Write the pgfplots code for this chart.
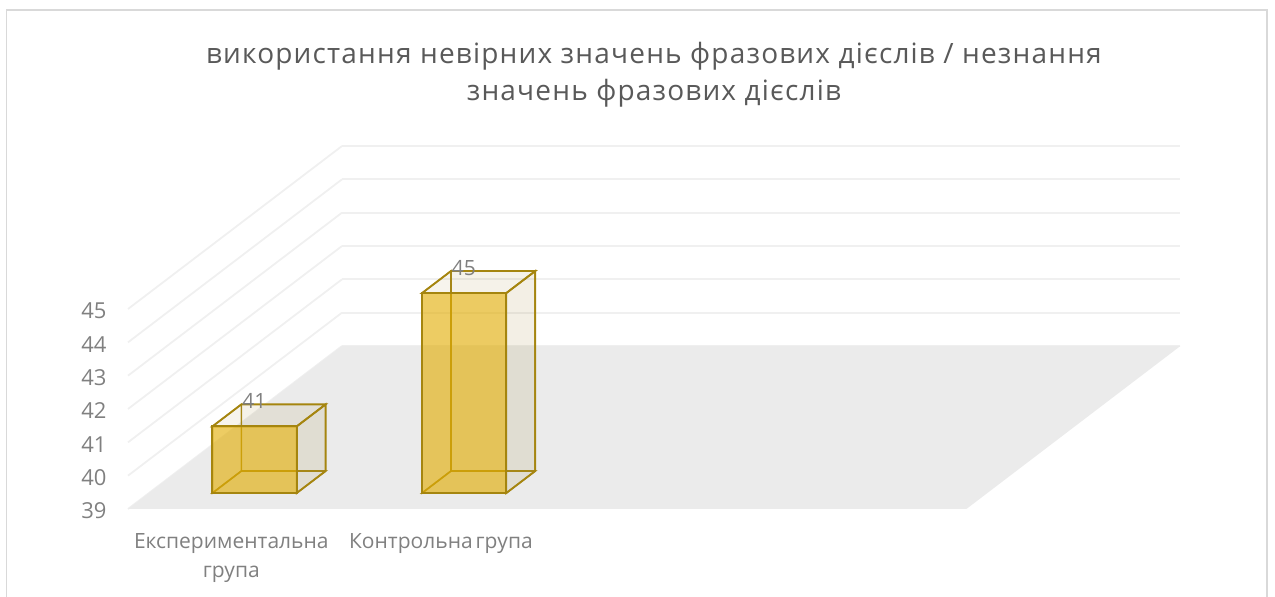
\documentclass[border=0pt]{standalone}
\usepackage{pgfplots}
\pgfplotsset{compat=1.18}
\usepackage{fontspec}
\setmainfont{Open Sans}
\newfontfamily\titlefont[LetterSpace=4.25]{Open Sans}
\definecolor{gridc}{HTML}{F0F0F0}
\definecolor{floorc}{HTML}{EBEBEB}
\definecolor{framec}{HTML}{D9D9D9}
\definecolor{barfront}{HTML}{E3AD00}
\definecolor{barside}{HTML}{9A7A20}
\definecolor{baredge}{HTML}{A5850F}
\definecolor{labelc}{HTML}{808080}
\definecolor{titlec}{HTML}{595959}

% One translucent box: #1 and #2 bound it along x, #3 is its height.
% Depth runs from 0.098 to 0.233 on the y axis, the base sits at 39.
\newcommand{\barbox}[3]{%
  \addplot3[draw=baredge, line width=1.6pt, draw opacity=0.8, fill=barside, fill opacity=0.05, no marks]
    coordinates {(#1,0.233,39) (#2,0.233,39) (#2,0.233,#3) (#1,0.233,#3)} -- cycle;
  \addplot3[draw=baredge, line width=1.6pt, draw opacity=0.8, fill=barside, fill opacity=0.03, no marks]
    coordinates {(#1,0.098,39) (#1,0.233,39) (#1,0.233,#3) (#1,0.098,#3)} -- cycle;
  \addplot3[draw=baredge, line width=1.6pt, draw opacity=0.8, fill=barside, fill opacity=0.05, no marks]
    coordinates {(#1,0.098,39) (#2,0.098,39) (#2,0.233,39) (#1,0.233,39)} -- cycle;
  \addplot3[draw=baredge, line width=1.8pt, fill=barside, fill opacity=0.05, no marks]
    coordinates {(#1,0.098,#3) (#2,0.098,#3) (#2,0.233,#3) (#1,0.233,#3)} -- cycle;
  \addplot3[draw=baredge, line width=1.8pt, fill=barside, fill opacity=0.07, no marks]
    coordinates {(#2,0.098,39) (#2,0.233,39) (#2,0.233,#3) (#2,0.098,#3)} -- cycle;
  \addplot3[draw=baredge, line width=2pt, fill=barfront, fill opacity=0.6, no marks]
    coordinates {(#1,0.098,39) (#2,0.098,39) (#2,0.098,#3) (#1,0.098,#3)} -- cycle;
}

\begin{document}
\begin{tikzpicture}[x=1pt,y=1pt]
\path[use as bounding box] (0,0) rectangle (1275,597);
\draw[framec, line width=1.4pt] (6.5,0) -- (6.5,587) -- (1267,587) -- (1267,0);
\begin{axis}[
  at={(128pt,88pt)}, anchor=south west,
  x={(209.6pt,0pt)}, y={(214pt,163pt)}, z={(0pt,33.33pt)},
  xmin=0, xmax=4, ymin=0, ymax=1, zmin=39, zmax=45,
  clip=false,
  axis line style={draw=none},
  tick style={draw=none},
  major tick length=0pt,
  xtick={0.5,1.5},
  xticklabels={Експериментальна група, {Контрольна\hspace{-4pt} група}},
  ytick=\empty,
  ztick={39,40,41,42,43,44,45},
  zmajorgrids=true,
  xmajorgrids=false,
  z grid style={gridc, line width=1.8pt},
  /pgf/number format/assume math mode=true,
  tick label style={text=labelc},
  xticklabel style={font=\fontsize{21}{29}\selectfont, text width=215pt, align=center, anchor=north, yshift=-21pt, xshift=-1.5pt},
  zticklabel style={font=\fontsize{22}{26}\selectfont, anchor=east, xshift=-18pt, yshift=-2pt},
  title={використання невірних значень фразових дієслів / незнання\\значень фразових дієслів},
  title style={at={(axis description cs:0.4997,1.181)}, anchor=center, align=center,
               font=\titlefont\fontsize{28}{37}\selectfont, text=titlec},
]
% floor of the plot
\addplot3[fill=floorc, draw=none, no marks]
  coordinates {(0,0,39) (4,0,39) (4,1,39) (0,1,39)} -- cycle;

\barbox{0.303}{0.705}{41}
\barbox{1.303}{1.705}{45}

% value labels
\addplot3[draw=none, no marks, point meta=z, nodes near coords,
  every node near coord/.append style={anchor=center, yshift=25pt, xshift=0pt,
    font=\fontsize{21}{24}\selectfont, text=labelc}]
  table[row sep=crcr] {
    x y z\\
    0.5025 0.098 41\\
    1.5025 0.098 45\\
  };
\end{axis}
\end{tikzpicture}
\end{document}
